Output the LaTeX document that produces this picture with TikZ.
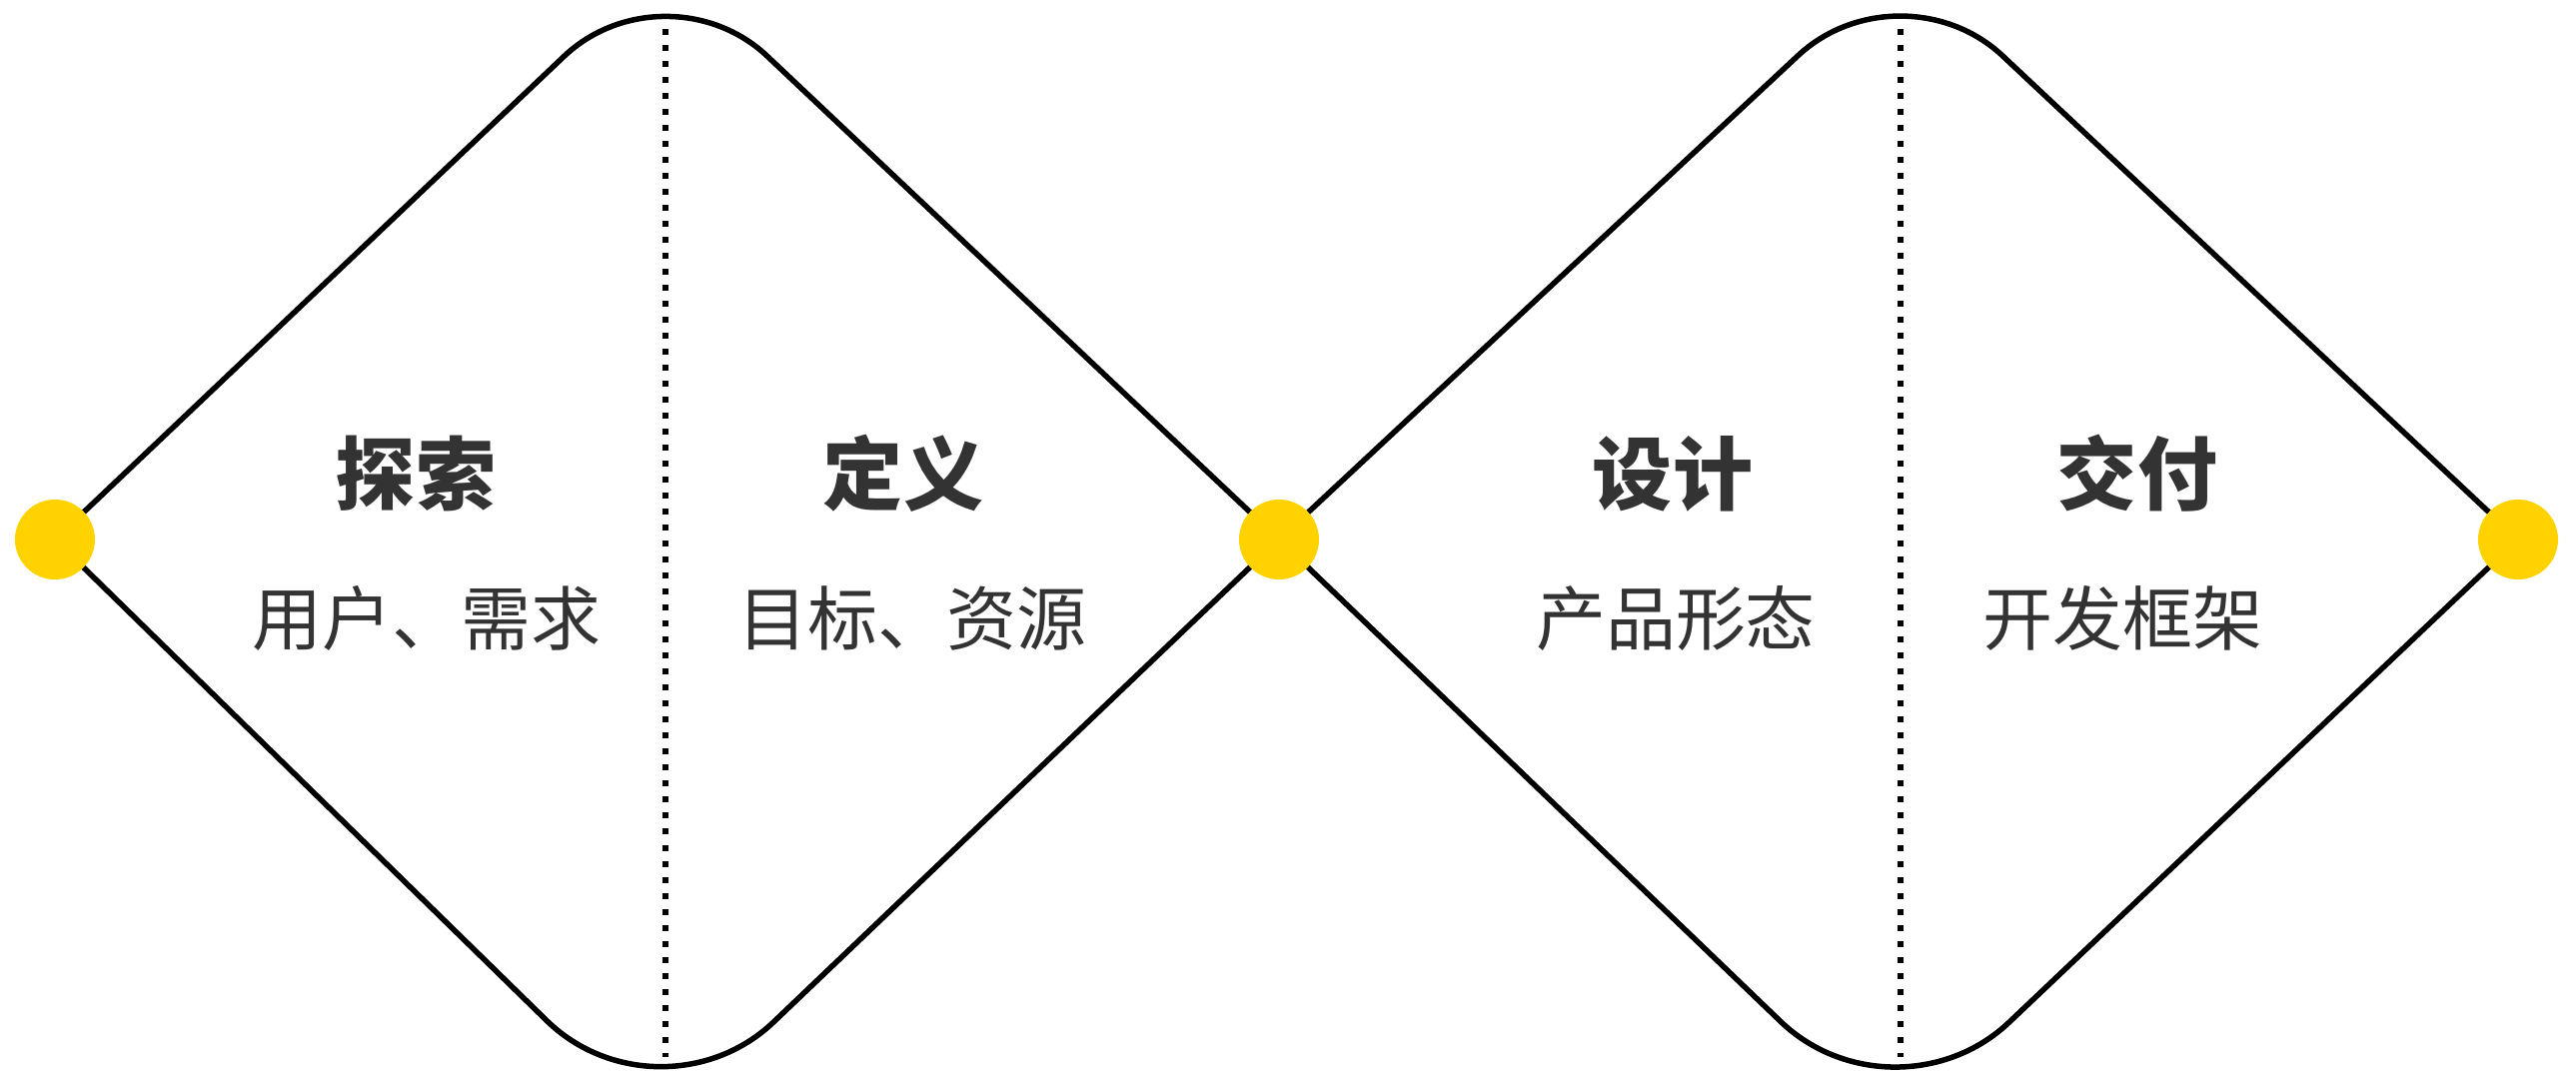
\documentclass[tikz,border=0pt]{standalone}
\usepackage{fontspec}
\newfontfamily\cjk{Noto Sans CJK SC}
\definecolor{dotyellow}{HTML}{FFD200}
\definecolor{txtgray}{HTML}{333333}
\tikzset{
  outline/.style={draw=black, line width=0.055cm, line join=round},
  divider/.style={draw=black, line width=0.06cm, dash pattern=on 0.06cm off 0.1cm},
  yellowdot/.style={circle, fill=dotyellow, draw=none, minimum size=0.8cm, inner sep=0pt},
  title/.style={anchor=base, inner sep=0pt, text=txtgray, font=\cjk\bfseries\fontsize{22.76pt}{27pt}\selectfont},
  subtitle/.style={anchor=base, inner sep=0pt, text=txtgray, font=\cjk\fontsize{19.9pt}{24pt}\selectfont},
}
\begin{document}
\begin{tikzpicture}[x=0.01cm, y=-0.01cm]
\useasboundingbox (0,0) rectangle (2578,1072);
% vertices
\coordinate (p1) at (55,540);
\coordinate (p2) at (1280,540);
\coordinate (p3) at (2520,540);
\coordinate (t1) at (666,-40);
\coordinate (b1) at (660,1132);
\coordinate (t2) at (1902,-40);
\coordinate (b2) at (1896,1132);
% diamonds
\draw[outline, rounded corners=1.4cm] (p1) -- (t1) -- (p2);
\draw[outline, rounded corners=1.58cm] (p1) -- (b1) -- (p2);
\draw[outline, rounded corners=1.4cm] (p2) -- (t2) -- (p3);
\draw[outline, rounded corners=1.58cm] (p2) -- (b2) -- (p3);
% dividers
\coordinate (v1top) at (666,29);
\coordinate (v1bot) at (666,1058);
\coordinate (v2top) at (1902,29);
\coordinate (v2bot) at (1902,1058);
\draw[divider] (v1top) -- (v1bot);
\draw[divider] (v2top) -- (v2bot);
% dots
\node[yellowdot] (d1) at (p1) {};
\node[yellowdot] (d2) at (p2) {};
\node[yellowdot] (d3) at (p3) {};
% texts
\node[title] (explore) at (416,504) {探索};
\node[subtitle] (exploresub) at (427,645) {用户、需求};
\node[title] (define) at (904,504) {定义};
\node[subtitle] (definesub) at (913,645) {目标、资源};
\node[title] (design) at (1674,504) {设计};
\node[subtitle] (designsub) at (1677,645) {产品形态};
\node[title] (deliver) at (2139,504) {交付};
\node[subtitle] (deliversub) at (2124,645) {开发框架};
\end{tikzpicture}
\end{document}
